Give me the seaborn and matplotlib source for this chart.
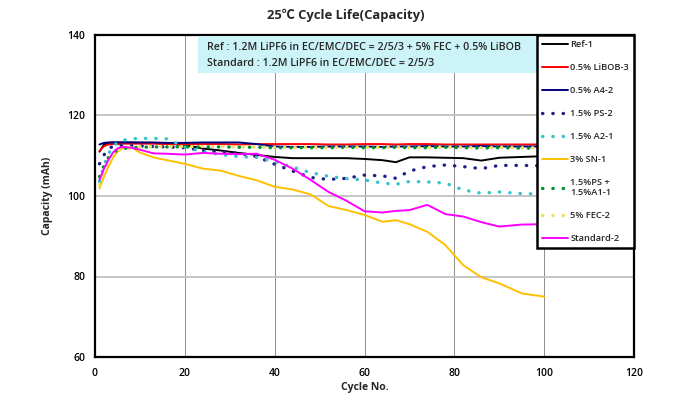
import matplotlib
matplotlib.use("Agg")
import matplotlib.pyplot as plt
import matplotlib.patches as mpatches
import seaborn as sns
import pandas as pd

# ---------------- data ----------------
cycles = [1, 2, 3, 4, 5, 6, 8, 10, 13, 16, 20, 24, 28, 32, 36, 40, 44, 48, 52, 56,
          60, 64, 67, 70, 74, 78, 82, 86, 90, 95, 100]

ref_1 = [111.0, 112.8, 113.2, 113.3, 113.3, 113.3, 113.3, 113.2, 113.2, 113.0, 112.7,
         111.8, 111.3, 110.7, 110.2, 109.7, 109.4, 109.4, 109.4, 109.4, 109.2, 108.9,
         108.4, 109.6, 109.6, 109.5, 109.4, 108.8, 109.5, 109.7, 109.9]
libob_3 = [111.2, 112.4, 112.8, 112.9, 112.9, 113.0, 113.0, 113.0, 113.0, 112.9, 112.9,
           112.9, 112.9, 112.8, 112.9, 112.9, 112.9, 112.9, 112.8, 112.8, 112.9, 112.9,
           112.8, 112.9, 112.9, 112.8, 112.8, 112.8, 112.8, 112.8, 112.8]
a4_2 = [112.8, 113.2, 113.3, 113.3, 113.3, 113.3, 113.3, 113.3, 113.3, 113.2, 113.2,
        113.3, 113.3, 113.3, 112.9, 112.3, 112.2, 112.2, 112.3, 112.3, 112.3, 112.2,
        112.3, 112.3, 112.4, 112.3, 112.3, 112.4, 112.3, 112.3, 112.3]
ps_2 = [108.0, 110.2, 111.8, 112.3, 112.5, 112.5, 112.5, 112.4, 112.3, 112.2, 112.0,
        111.3, 111.0, 110.6, 109.8, 107.9, 106.2, 104.6, 104.1, 104.4, 105.2, 105.0,
        104.4, 106.2, 107.3, 107.7, 107.3, 106.8, 107.6, 107.6, 107.5]
a2_1 = [103.6, 107.5, 110.5, 112.3, 113.3, 113.8, 114.2, 114.3, 114.3, 114.2, 112.2,
        111.0, 110.3, 109.8, 109.6, 108.5, 107.2, 105.8, 104.9, 104.3, 104.0, 103.2,
        102.9, 103.6, 103.5, 103.2, 101.5, 100.7, 101.0, 100.6, 100.5]
sn_1 = [101.9, 104.8, 107.3, 109.5, 111.0, 111.8, 112.2, 110.8, 109.6, 108.9, 108.0,
        106.8, 106.3, 105.0, 103.9, 102.3, 101.6, 100.4, 97.5, 96.5, 95.3, 93.6,
        94.0, 93.0, 91.1, 87.8, 82.8, 79.8, 78.3, 75.8, 75.0]
ps_a1_1 = [104.8, 107.5, 109.6, 110.8, 111.4, 111.8, 112.0, 112.1, 112.2, 112.2, 112.2,
           112.2, 112.2, 112.1, 112.1, 112.0, 112.0, 112.0, 112.0, 112.1, 112.0, 112.0,
           112.1, 112.0, 112.0, 112.1, 112.0, 111.9, 112.0, 111.9, 111.9]
fec_2 = [102.8, 106.0, 108.6, 110.3, 111.2, 111.7, 112.0, 112.2, 112.3, 112.3, 112.3,
         112.3, 112.3, 112.2, 112.2, 112.1, 112.1, 112.1, 112.1, 112.2, 112.1, 112.1,
         112.2, 112.1, 112.1, 112.2, 112.1, 112.0, 112.1, 112.0, 112.0]
standard_2 = [104.0, 106.8, 109.0, 110.8, 111.8, 112.2, 112.0, 111.5, 110.6, 110.5, 110.3,
              110.7, 110.5, 110.4, 110.5, 109.0, 106.8, 104.0, 101.0, 98.8, 96.2, 95.9,
              96.3, 96.5, 97.8, 95.5, 94.9, 93.5, 92.4, 92.9, 93.0]

series_names = ["Ref-1", "0.5% LiBOB-3", "0.5% A4-2", "1.5% PS-2", "1.5% A2-1",
                "3% SN-1", "1.5%PS +\n1.5%A1-1", "5% FEC-2", "Standard-2"]
series_values = [ref_1, libob_3, a4_2, ps_2, a2_1, sn_1, ps_a1_1, fec_2, standard_2]

x_ticks = [0, 20, 40, 60, 80, 100, 120]
y_ticks = [60, 80, 100, 120, 140]

title = "25\u2103 Cycle Life(Capacity)"
x_label = "Cycle No."
y_label = "Capacity (mAh)"
note_lines = ["Ref : 1.2M LiPF6 in EC/EMC/DEC = 2/5/3 + 5% FEC + 0.5% LiBOB",
              "Standard : 1.2M LiPF6 in EC/EMC/DEC = 2/5/3"]

# ---------------- styles ----------------
colors = ["#000000", "#ff0000", "#000080", "#1f1f8a", "#33c4cc",
          "#ffc000", "#00902a", "#ece05a", "#ff00ff"]
dotted = (0, (0.1, 3.0))
styles = ["-", "-", "-", dotted, dotted, "-", dotted, dotted, "-"]
widths = [1.4, 1.4, 1.4, 2.4, 2.4, 1.4, 2.4, 2.4, 1.4]

sns.set_theme(style="white")
plt.rcParams["font.family"] = ["Open Sans", "Noto Sans CJK KR", "DejaVu Sans"]

fig = plt.figure(figsize=(6.75, 4.13), dpi=100)
ax = fig.add_axes([95 / 675, 1 - 357 / 413, 539 / 675, 322 / 413])

df = pd.DataFrame({"cycle": cycles})
for name, vals in zip(series_names, series_values):
    df[name] = vals

for name, c, ls, lw in zip(series_names, colors, styles, widths):
    sns.lineplot(data=df, x="cycle", y=name, ax=ax, color=c, linestyle=ls,
                 linewidth=lw, label=name, dash_capstyle="round",
                 solid_capstyle="round")

ax.set_xlim(0, 120)
ax.set_ylim(60, 140)
ax.set_xticks(x_ticks)
ax.set_yticks(y_ticks)
ax.tick_params(axis="both", direction="in", length=3, width=1, labelsize=7.5,
               colors="black", pad=7)
ax.tick_params(axis="x", pad=8)
for lab in ax.get_xticklabels() + ax.get_yticklabels():
    lab.set_fontweight("semibold")

ax.xaxis.grid(True, color="#8c8c8c", linewidth=0.7)
ax.yaxis.grid(True, color="#c0c0c0", linewidth=1.3)
ax.set_axisbelow(True)
for sp in ax.spines.values():
    sp.set_color("black")
    sp.set_linewidth(1.6)

ax.set_xlabel(x_label, fontsize=7.5, fontweight="bold")
ax.set_ylabel(y_label, fontsize=7.5, fontweight="bold")
ax.xaxis.set_label_coords(0.5, -0.078)
ax.yaxis.set_label_coords(-0.078, 0.5)

fig.text(346 / 675, 1 - 15 / 413, title, ha="center", va="center",
         fontsize=9.4, fontweight="bold")

# note box
x0 = (198 - 95) / 539
x1 = (541 - 95) / 539
rect = mpatches.Rectangle((x0, 1 - 38 / 322), x1 - x0, 37 / 322,
                          transform=ax.transAxes, facecolor="#ccf3f7",
                          edgecolor="none", zorder=3)
ax.add_patch(rect)
ax.text((207 - 95) / 539, 1 - 12 / 322, note_lines[0], transform=ax.transAxes,
        ha="left", va="center", fontsize=7.7, fontweight="semibold", zorder=4)
ax.text((207 - 95) / 539, 1 - 29 / 322, note_lines[1], transform=ax.transAxes,
        ha="left", va="center", fontsize=7.7, fontweight="semibold", zorder=4)

leg = ax.legend(loc="upper right", bbox_to_anchor=(1.0, 1.0),
                frameon=True, fancybox=False, framealpha=1, edgecolor="black",
                facecolor="white", borderaxespad=0, handlelength=2.8,
                handletextpad=0.2, labelspacing=1.5, borderpad=0.55,
                prop={"size": 6.7, "weight": "semibold"})
leg.get_frame().set_linewidth(1.8)
leg.set_zorder(5)

fig.savefig("out.png", dpi=100)
